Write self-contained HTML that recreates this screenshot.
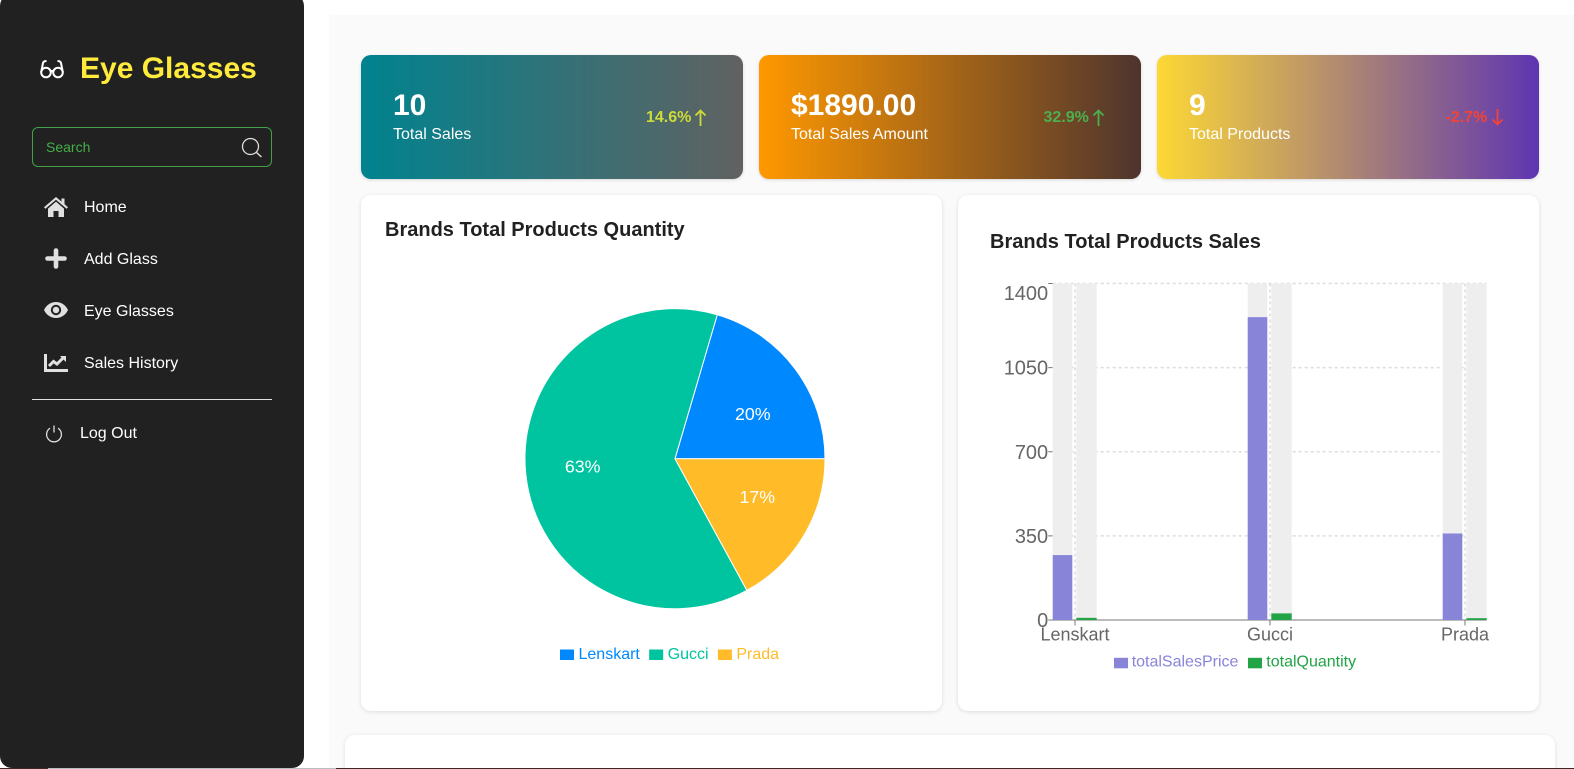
<!DOCTYPE html>
<html lang="en">
<head>
<meta charset="utf-8">
<title>Eye Glasses Dashboard</title>
<style>
html,body{margin:0;padding:0;width:1574px;height:769px;overflow:hidden;background:#fff;font-family:"Liberation Sans",Arial,sans-serif;}
#stage{position:relative;width:1574px;height:769px;overflow:hidden;}
.abs{position:absolute;white-space:nowrap;}
.box{position:absolute;}
#sidebar{left:0;top:-6px;width:304px;height:774px;background:#212121;border-radius:12px;}
#main{left:329px;top:15px;width:1245px;height:754px;background:#fafafa;}
.stat{top:55px;height:124px;width:382px;border-radius:10px;box-shadow:0 1px 3px rgba(0,0,0,.14);}
.panel{background:#fff;border-radius:10px;box-shadow:0 1px 4px rgba(0,0,0,.12);}
.nav{color:#fff;font-size:16px;line-height:18px;}
.num{color:#fff;font-weight:700;font-size:30px;line-height:34px;}
.lab{color:#fff;font-size:16px;line-height:18px;}
.pct{font-weight:700;font-size:16px;line-height:18px;}
.ttl{color:#212121;font-weight:700;font-size:20px;line-height:23px;}
svg{position:absolute;overflow:visible;}
</style>
</head>
<body>
<div id="stage">
  <div class="box" id="main"></div>

  <div class="box" id="sidebar"></div>

  <svg style="left:40px;top:60px" width="24" height="18" viewBox="0 0 24 18">
    <g fill="none" stroke="#fff" stroke-width="2">
      <circle cx="6" cy="12.5" r="4.8"/><circle cx="18" cy="12.5" r="4.8"/>
      <path d="M10.6 11.5 Q12 10.6 13.4 11.5"/>
      <path d="M1.2 12 L3 3 Q3.6 1 6.5 1"/><path d="M22.8 12 L21 3 Q20.4 1 17.5 1"/>
    </g>
  </svg>
  <div class="abs" style="left:80px;top:52px;font-size:30px;line-height:34px;font-weight:700;color:#ffeb3b">Eye Glasses</div>

  <div class="box" style="left:32px;top:127px;width:238px;height:38px;border:1px solid #43a047;border-radius:6px"></div>
  <div class="abs" style="left:46px;top:139px;font-size:14px;line-height:16px;color:#43b047">Search</div>
  <svg style="left:240px;top:136px" width="24" height="24" viewBox="0 0 24 24">
    <circle cx="10.5" cy="10.5" r="8" fill="none" stroke="#ddd" stroke-width="1.3"/>
    <path d="M16.5 16.5 L21.5 21" stroke="#ddd" stroke-width="1.5" fill="none"/>
  </svg>

  <svg style="left:44px;top:197px" width="24" height="20" viewBox="0 0 24 20">
    <path fill="#e0e0e0" d="M12 0 L17.5 4.6 V1.5 H20.5 V7.1 L24 10.2 L22.6 11.8 L12 2.8 L1.4 11.8 L0 10.2 Z"/>
    <path fill="#e0e0e0" d="M4 11.6 L12 4.6 L20 11.6 V20 H14.5 V14 H9.5 V20 H4 Z"/>
  </svg>
  <div class="abs nav" style="left:84px;top:198.5px">Home</div>

  <svg style="left:45px;top:248px" width="22" height="22" viewBox="0 0 22 22">
    <path d="M11 2.5 V18.5 M2.5 10.5 H19.5" stroke="#e0e0e0" stroke-width="4.6" stroke-linecap="round" fill="none"/>
  </svg>
  <div class="abs nav" style="left:84px;top:250.5px">Add Glass</div>

  <svg style="left:44px;top:302px" width="24" height="16" viewBox="0 0 24 16">
    <path fill="#e0e0e0" d="M0 8 C5 -2.6 19 -2.6 24 8 C19 18.6 5 18.6 0 8 Z"/>
    <circle cx="12" cy="8" r="5.2" fill="#212121"/><circle cx="12" cy="8" r="3.2" fill="#e0e0e0"/>
  </svg>
  <div class="abs nav" style="left:84px;top:302.5px">Eye Glasses</div>

  <svg style="left:44px;top:354px" width="24" height="18" viewBox="0 0 24 18">
    <path d="M1.5 0 V16.5 H24" stroke="#e0e0e0" stroke-width="3" fill="none"/>
    <path d="M5 12 L9.5 7.5 L13 10 L19 4" stroke="#e0e0e0" stroke-width="3" fill="none"/>
    <path d="M16 2 H22 V8 Z" fill="#e0e0e0"/>
  </svg>
  <div class="abs nav" style="left:84px;top:354.5px">Sales History</div>

  <div class="box" style="left:32px;top:399px;width:240px;height:1px;background:#e0e0e0"></div>

  <svg style="left:45px;top:424px" width="18" height="18" viewBox="0 0 18 18">
    <path d="M5 4.2 A7.4 7.4 0 1 0 13 4.2 M9 1.5 V8.5" stroke="#ddd" stroke-width="1.3" fill="none"/>
  </svg>
  <div class="abs nav" style="left:80px;top:425px">Log Out</div>

  <!-- stat cards -->
  <div class="box stat" style="left:361px;background:linear-gradient(to right,#00838f,#616161)"></div>
  <div class="abs num" style="left:393px;top:88.5px">10</div>
  <div class="abs lab" style="left:393px;top:126px">Total Sales</div>
  <div class="abs pct" style="left:646px;top:109px;color:#cddc39">14.6%</div>
  <svg style="left:694px;top:109px" width="13" height="17" viewBox="0 0 13 17">
    <path d="M6.5 17 V1.5 M1.5 6.5 L6.5 1.5 L11.5 6.5" stroke="#cddc39" stroke-width="1.8" fill="none"/>
  </svg>

  <div class="box stat" style="left:759px;background:linear-gradient(to right,#ff9800,#4e342e)"></div>
  <div class="abs num" style="left:791px;top:88.5px">$1890.00</div>
  <div class="abs lab" style="left:791px;top:126px">Total Sales Amount</div>
  <div class="abs pct" style="left:1043.5px;top:109px;color:#4caf50">32.9%</div>
  <svg style="left:1092px;top:109px" width="13" height="17" viewBox="0 0 13 17">
    <path d="M6.5 17 V1.5 M1.5 6.5 L6.5 1.5 L11.5 6.5" stroke="#4caf50" stroke-width="1.8" fill="none"/>
  </svg>

  <div class="box stat" style="left:1157px;background:linear-gradient(to right,#fdd835,#5e35b1)"></div>
  <div class="abs num" style="left:1189px;top:88.5px">9</div>
  <div class="abs lab" style="left:1189px;top:126px">Total Products</div>
  <div class="abs pct" style="left:1445.5px;top:109px;color:#f44336">-2.7%</div>
  <svg style="left:1490.5px;top:109px" width="13" height="17" viewBox="0 0 13 17">
    <path d="M6.5 0 V15.5 M1.5 10.5 L6.5 15.5 L11.5 10.5" stroke="#f44336" stroke-width="1.8" fill="none"/>
  </svg>

  <!-- panels -->
  <div class="box panel" style="left:361px;top:195px;width:581px;height:516px"></div>
  <div class="abs ttl" style="left:385px;top:219px">Brands Total Products Quantity</div>
  <div class="box panel" style="left:958px;top:195px;width:581px;height:516px"></div>
  <div class="abs ttl" style="left:990px;top:231px">Brands Total Products Sales</div>
  <div class="box panel" style="left:345px;top:735px;width:1210px;height:60px"></div>

  <svg id="pie" style="left:0;top:0" width="1574" height="769"></svg>
  <svg id="bars" style="left:0;top:0" width="1574" height="769"></svg>

  <div class="box" style="left:0;top:768px;width:48px;height:1px;background:#3c2a20"></div>
  <div class="box" style="left:48px;top:768px;width:288px;height:1px;background:#bdbdbd"></div>
  <div class="box" style="left:336px;top:768px;width:1238px;height:1px;background:#3c2a20"></div>
</div>

<script>
var categories = ['Lenskart', 'Gucci', 'Prada'];
var totalSalesPrice = [270, 1260, 360];
var totalQuantity = [9, 27.5, 7.5];
var yTicks = [0, 350, 700, 1050, 1400];
var pieColors = ['#0088FE', '#00C49F', '#FFBB28'];

var NS = 'http://www.w3.org/2000/svg';
function make(parent, tag, attrs, text) {
  var el = document.createElementNS(NS, tag);
  for (var k in attrs) { el.setAttribute(k, attrs[k]); }
  if (text !== undefined) { el.textContent = text; }
  parent.appendChild(el);
  return el;
}

/* ---------- pie ---------- */
var pieSvg = document.getElementById('pie');
var pieCx = 675, pieCy = 458.7, pieR = 150;
var pieTotal = totalQuantity.reduce(function (a, b) { return a + b; }, 0);
function pieAngle(cum) { return cum / pieTotal * 2 * Math.PI; }
function pieX(r, a) { return pieCx + r * Math.cos(a); }
function pieY(r, a) { return pieCy - r * Math.sin(a); }

var pieCum = 0;
totalQuantity.forEach(function (v, i) {
  var a0 = pieAngle(pieCum), a1 = pieAngle(pieCum + v);
  var large = (a1 - a0) > Math.PI ? 1 : 0;
  var d = 'M' + pieCx + ' ' + pieCy + ' L' + pieX(pieR, a0) + ' ' + pieY(pieR, a0) +
          ' A' + pieR + ' ' + pieR + ' 0 ' + large + ' 0 ' + pieX(pieR, a1) + ' ' + pieY(pieR, a1) + ' Z';
  var slice = make(pieSvg, 'path', { d: d, fill: pieColors[i], stroke: '#fff', 'stroke-width': 1 });
  
  
  pieCum += v;
});
pieCum = 0;
totalQuantity.forEach(function (v, i) {
  var mid = pieAngle(pieCum + v / 2);
  var lx = pieX(pieR / 2, mid), ly = pieY(pieR / 2, mid);
  var label = make(pieSvg, 'text', {
    x: lx, y: ly + 6, fill: '#fff', 'font-size': 17.8,
    'text-anchor': lx > pieCx ? 'start' : 'end'
  }, Math.round(v / pieTotal * 100) + '%');
  
  
  pieCum += v;
});

/* pie legend, laid out by measured text width */
var pieLegendX = 560, pieLegendY = 649.5;
categories.forEach(function (name, i) {
  var swatch = make(pieSvg, 'rect', { x: pieLegendX, y: pieLegendY, width: 14, height: 10.5, fill: pieColors[i] });
  
  
  var t = make(pieSvg, 'text', { x: pieLegendX + 18.5, y: pieLegendY + 9.3, fill: pieColors[i], 'font-size': 16 }, name);
  
  
  pieLegendX += 18.5 + t.getComputedTextLength() + 9.3;
});

/* ---------- bars ---------- */
var barSvg = document.getElementById('bars');
var plotTop = 283.5, plotBottom = 620, plotLeft = 1052.7, plotRight = 1486.7;
var firstCenter = 1075, lastCenter = 1465;
var yMax = yTicks[yTicks.length - 1];
var barWidth = 20;
function yScale(v) { return plotBottom - v / yMax * (plotBottom - plotTop); }
function xScale(i) { return firstCenter + i * (lastCenter - firstCenter) / (categories.length - 1); }

yTicks.forEach(function (t) {
  if (t === 0) { return; }
  var g = make(barSvg, 'line', { x1: plotLeft, x2: plotRight, y1: yScale(t), y2: yScale(t), stroke: '#dcdcdc', 'stroke-width': 1.5, 'stroke-dasharray': '3 3' });
  
  
});
categories.forEach(function (name, i) {
  var g = make(barSvg, 'line', { x1: xScale(i), x2: xScale(i), y1: plotTop, y2: plotBottom, stroke: '#dcdcdc', 'stroke-width': 1.5, 'stroke-dasharray': '3 3' });
  
  
});

var xAxis = make(barSvg, 'line', { x1: plotLeft - 4, x2: plotRight, y1: plotBottom, y2: plotBottom, stroke: '#777', 'stroke-width': 1 });



yTicks.forEach(function (t) {
  var mark = make(barSvg, 'line', { x1: plotLeft - 4.5, x2: plotLeft, y1: yScale(t), y2: yScale(t), stroke: '#777' });
  
  
  var labelCenter = Math.max(yScale(t), plotTop + 9.5);
  var label = make(barSvg, 'text', { x: plotLeft - 4.5, y: labelCenter + 7, fill: '#666', 'font-size': 20, 'text-anchor': 'end' }, String(t));
  
  
});

categories.forEach(function (name, i) {
  var c = xScale(i);
  var key = name.toLowerCase();
  var bg1 = make(barSvg, 'rect', { x: c - 22.3, y: plotTop, width: barWidth - 0.4, height: plotBottom - plotTop, fill: '#eee' });
  
  
  var bg2 = make(barSvg, 'rect', { x: c + 1.3, y: plotTop, width: barWidth + 0.4, height: plotBottom - plotTop, fill: '#eee' });
  
  
  var b1 = make(barSvg, 'rect', { x: c - 22.3, y: yScale(totalSalesPrice[i]), width: barWidth - 0.4, height: plotBottom - yScale(totalSalesPrice[i]), fill: '#8884d8' });
  
  
  var b2 = make(barSvg, 'rect', { x: c + 1.3, y: yScale(totalQuantity[i]), width: barWidth + 0.4, height: plotBottom - yScale(totalQuantity[i]), fill: '#21a346' });
  
  
  var tick = make(barSvg, 'line', { x1: c, x2: c, y1: plotBottom, y2: plotBottom + 5.5, stroke: '#777' });
  
  
  var label = make(barSvg, 'text', { x: c, y: 640.5, fill: '#666', 'font-size': 18, 'text-anchor': 'middle' }, name);
  
  
});

var swatchPrice = make(barSvg, 'rect', { x: 1114, y: 657.8, width: 14, height: 10.5, fill: '#8884d8' });


var legendPrice = make(barSvg, 'text', { x: 1131.7, y: 666.7, fill: '#8884d8', 'font-size': 16 }, 'totalSalesPrice');


var swatchQty = make(barSvg, 'rect', { x: 1248, y: 657.8, width: 14, height: 10.5, fill: '#21a346' });


var legendQty = make(barSvg, 'text', { x: 1266.3, y: 666.7, fill: '#21a346', 'font-size': 16 }, 'totalQuantity');


</script>
</body>
</html>
